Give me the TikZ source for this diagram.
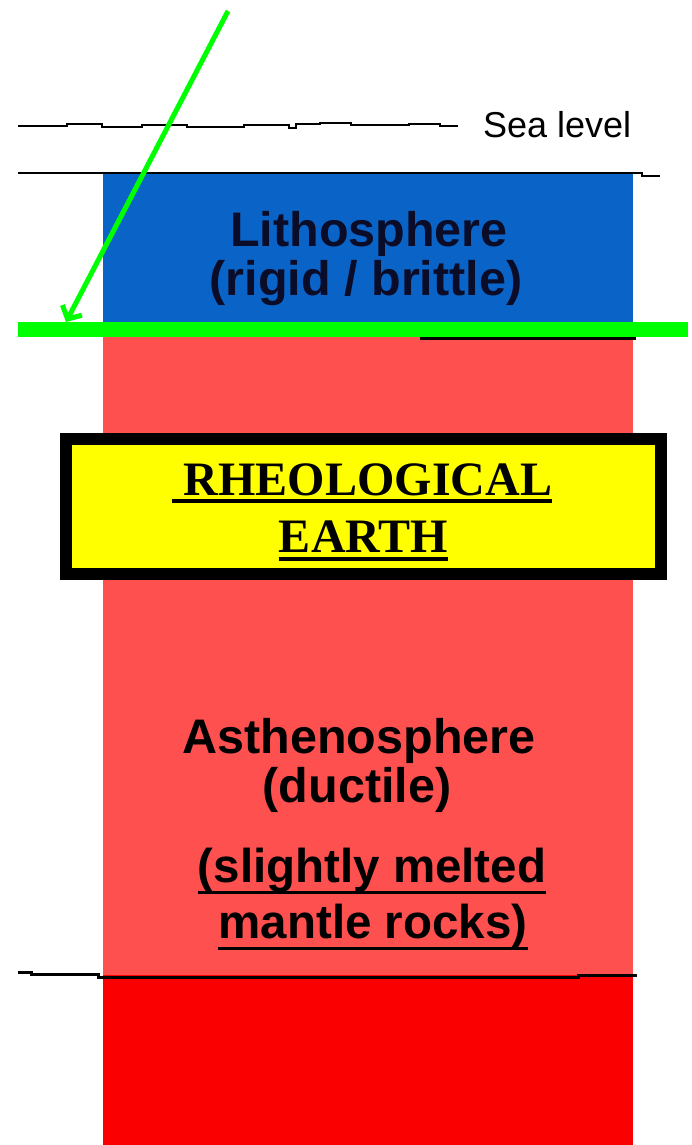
\documentclass[tikz,border=0pt]{standalone}
\usepackage{fontspec}
\setmainfont{Liberation Sans}
\newfontfamily\timesfam{Liberation Serif}
\usetikzlibrary{arrows.meta}
\definecolor{litho}{RGB}{10,100,200}
\definecolor{astheno}{RGB}{255,80,80}
\definecolor{meso}{RGB}{250,0,0}
\definecolor{grn}{RGB}{0,255,0}
\definecolor{yel}{RGB}{255,255,0}
\definecolor{navy}{RGB}{10,12,40}
\begin{document}
\begin{tikzpicture}[x=1pt,y=-1pt,
  lbl/.style={font=\fontsize{48.5}{52}\selectfont\bfseries, inner sep=0pt, anchor=base},
  sub/.style={font=\fontsize{47.5}{52}\selectfont\bfseries, inner sep=0pt, anchor=base},
  ttl/.style={font=\timesfam\fontsize{48}{52}\selectfont\bfseries, inner sep=0pt, anchor=base},
  uline/.style={line width=#1},
  border/.style={line width=2pt},
]
\useasboundingbox (0,0) rectangle (692,1145);
\fill[white] (0,0) rectangle (692,1145);
% layers
\fill[litho] (103,173) rectangle (633,322);
\fill[astheno] (103,322) rectangle (633,975);
\fill[meso] (103,975) rectangle (633,1145);
% boundary lines
\draw[border] (18,173) -- (642,173) -- (642,176) -- (660,176);
\draw[border] (18,126) -- (67,126) -- (67,124) -- (102,124) -- (102,127) -- (142,127) -- (142,125) -- (187,125) -- (187,127) -- (244,127) -- (244,125) -- (289,125) -- (289,128) -- (296,128) -- (296,124) -- (320,124) -- (320,123) -- (351,123) -- (351,125) -- (409,125) -- (409,124) -- (440,124) -- (440,126) -- (458,126);
\draw[line width=3pt] (420,338) -- (636,338);
\draw[line width=3pt] (18,972) -- (31,972) -- (31,974) -- (98,974) -- (98,977) -- (578,977) -- (578,975) -- (637,975);
% green marker
\fill[grn] (18,322) rectangle (688,337);
\coordinate (atail) at (228,11);
\coordinate (ahead) at (66,322);
\draw[grn, line width=5pt, -{Straight Barb[length=10pt,width=22pt]}] (atail) -- (ahead);
% labels
\node[anchor=base west, inner sep=0pt, font=\fontsize{36}{40}\selectfont] (sea) at (483,137) {Sea level};
\node[lbl, text=navy] (l1) at (369,246) {Lithosphere};
\node[lbl, text=navy] (l2) at (366,295) {(rigid / brittle)};
\node[lbl] (a1) at (359,753) {Asthenosphere};
\node[lbl] (a2) at (357,802) {(ductile)};
\node[sub] (m1) at (372,882) {(slightly melted};
\node[sub] (m2) at (373,938) {mantle rocks)};
\draw[uline=3pt] ([yshift=-10pt]m1.base west) -- ([yshift=-10pt]m1.base east);
\draw[uline=3pt] ([yshift=-10pt]m2.base west) -- ([yshift=-10pt]m2.base east);
% title box
\node[draw=black, line width=12pt, fill=yel, minimum width=595pt, minimum height=135pt, inner sep=0pt] (box) at (363.5,506.5) {};
\node[ttl] (r1) at (368,495) {RHEOLOGICAL};
\node[ttl] (r2) at (363.5,552) {EARTH};
\draw[uline=4pt] ([xshift=-12pt,yshift=-6pt]r1.base west) -- ([yshift=-6pt]r1.base east);
\draw[uline=4pt] ([yshift=-7pt]r2.base west) -- ([yshift=-7pt]r2.base east);
\end{tikzpicture}
\end{document}
